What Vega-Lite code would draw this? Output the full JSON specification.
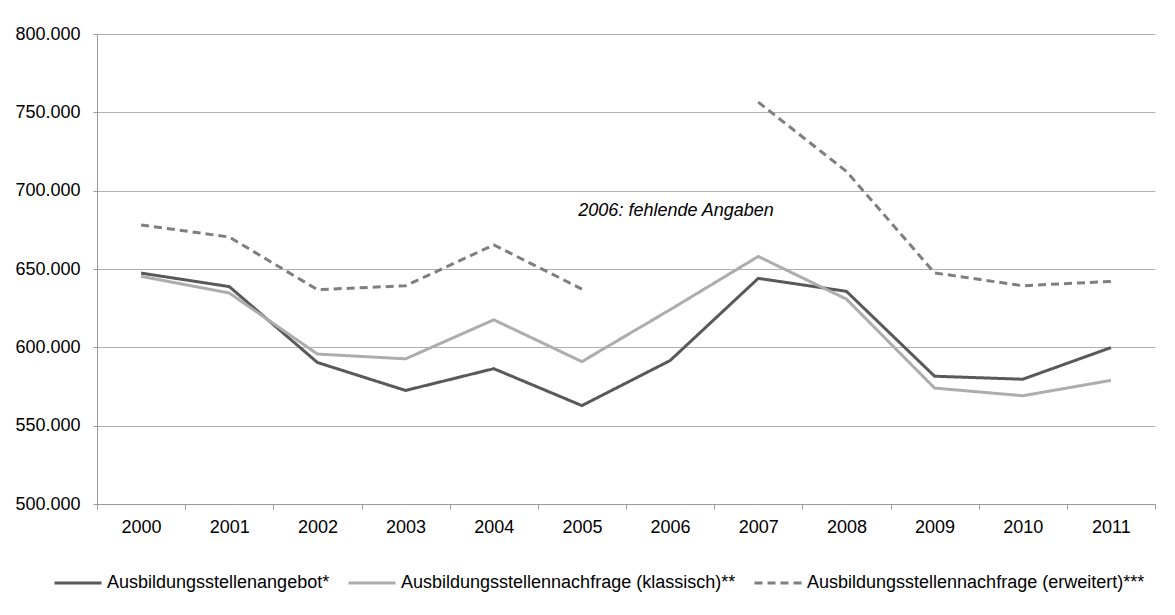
{
  "$schema": "https://vega.github.io/schema/vega-lite/v6.json",
  "width": 1058,
  "height": 470,
  "autosize": {"type": "none"},
  "padding": {"left": 97, "top": 34, "right": 20, "bottom": 111},
  "background": "white",
  "config": {"font": "Liberation Sans", "view": {"stroke": null}},
  "layer": [
    {
      "data": {
        "values": [
          {"Jahr": "2000", "Reihe": "Ausbildungsstellenangebot*", "Wert": 647383},
          {"Jahr": "2001", "Reihe": "Ausbildungsstellenangebot*", "Wert": 638771},
          {"Jahr": "2002", "Reihe": "Ausbildungsstellenangebot*", "Wert": 590328},
          {"Jahr": "2003", "Reihe": "Ausbildungsstellenangebot*", "Wert": 572474},
          {"Jahr": "2004", "Reihe": "Ausbildungsstellenangebot*", "Wert": 586374},
          {"Jahr": "2005", "Reihe": "Ausbildungsstellenangebot*", "Wert": 562816},
          {"Jahr": "2006", "Reihe": "Ausbildungsstellenangebot*", "Wert": 591540},
          {"Jahr": "2007", "Reihe": "Ausbildungsstellenangebot*", "Wert": 644028},
          {"Jahr": "2008", "Reihe": "Ausbildungsstellenangebot*", "Wert": 635758},
          {"Jahr": "2009", "Reihe": "Ausbildungsstellenangebot*", "Wert": 581562},
          {"Jahr": "2010", "Reihe": "Ausbildungsstellenangebot*", "Wert": 579649},
          {"Jahr": "2011", "Reihe": "Ausbildungsstellenangebot*", "Wert": 599829},
          {"Jahr": "2000", "Reihe": "Ausbildungsstellennachfrage (klassisch)**", "Wert": 645335},
          {"Jahr": "2001", "Reihe": "Ausbildungsstellennachfrage (klassisch)**", "Wert": 634698},
          {"Jahr": "2002", "Reihe": "Ausbildungsstellennachfrage (klassisch)**", "Wert": 595706},
          {"Jahr": "2003", "Reihe": "Ausbildungsstellennachfrage (klassisch)**", "Wert": 592649},
          {"Jahr": "2004", "Reihe": "Ausbildungsstellennachfrage (klassisch)**", "Wert": 617556},
          {"Jahr": "2005", "Reihe": "Ausbildungsstellennachfrage (klassisch)**", "Wert": 590900},
          {"Jahr": "2006", "Reihe": "Ausbildungsstellennachfrage (klassisch)**", "Wert": 624000},
          {"Jahr": "2007", "Reihe": "Ausbildungsstellennachfrage (klassisch)**", "Wert": 658000},
          {"Jahr": "2008", "Reihe": "Ausbildungsstellennachfrage (klassisch)**", "Wert": 630800},
          {"Jahr": "2009", "Reihe": "Ausbildungsstellennachfrage (klassisch)**", "Wert": 574000},
          {"Jahr": "2010", "Reihe": "Ausbildungsstellennachfrage (klassisch)**", "Wert": 569100},
          {"Jahr": "2011", "Reihe": "Ausbildungsstellennachfrage (klassisch)**", "Wert": 578900},
          {"Jahr": "2000", "Reihe": "Ausbildungsstellennachfrage (erweitert)***", "Wert": 678100},
          {"Jahr": "2001", "Reihe": "Ausbildungsstellennachfrage (erweitert)***", "Wert": 670400},
          {"Jahr": "2002", "Reihe": "Ausbildungsstellennachfrage (erweitert)***", "Wert": 636800},
          {"Jahr": "2003", "Reihe": "Ausbildungsstellennachfrage (erweitert)***", "Wert": 639300},
          {"Jahr": "2004", "Reihe": "Ausbildungsstellennachfrage (erweitert)***", "Wert": 665400},
          {"Jahr": "2005", "Reihe": "Ausbildungsstellennachfrage (erweitert)***", "Wert": 637200},
          {"Jahr": "2006", "Reihe": "Ausbildungsstellennachfrage (erweitert)***", "Wert": null},
          {"Jahr": "2007", "Reihe": "Ausbildungsstellennachfrage (erweitert)***", "Wert": 756500},
          {"Jahr": "2008", "Reihe": "Ausbildungsstellennachfrage (erweitert)***", "Wert": 712300},
          {"Jahr": "2009", "Reihe": "Ausbildungsstellennachfrage (erweitert)***", "Wert": 647500},
          {"Jahr": "2010", "Reihe": "Ausbildungsstellennachfrage (erweitert)***", "Wert": 639300},
          {"Jahr": "2011", "Reihe": "Ausbildungsstellennachfrage (erweitert)***", "Wert": 642100}
        ]
      },
      "mark": {"type": "line", "strokeWidth": 3, "invalid": "break-paths-show-domains"},
      "encoding": {
        "x": {
          "field": "Jahr",
          "type": "ordinal",
          "bandPosition": 0.5,
          "scale": {"type": "band", "paddingInner": 0, "paddingOuter": 0},
          "axis": {
            "title": null,
            "labelAngle": 0,
            "labelFontSize": 18,
            "labelColor": "#000000",
            "domainColor": "#9a9a9a",
            "tickColor": "#9a9a9a",
            "tickSize": 5,
            "labelPadding": 9,
            "tickBand": "extent",
            "grid": false
          }
        },
        "y": {
          "field": "Wert",
          "type": "quantitative",
          "scale": {"domain": [500000, 800000], "nice": false, "zero": false},
          "axis": {
            "title": null,
            "values": [500000, 550000, 600000, 650000, 700000, 750000, 800000],
            "labelExpr": "replace(format(datum.value, ',.0f'), ',', '.')",
            "labelFontSize": 18,
            "labelColor": "#000000",
            "tickSize": 4,
            "labelPadding": 13,
            "gridColor": "#b0b0b0",
            "domainColor": "#9a9a9a",
            "tickColor": "#9a9a9a"
          }
        },
        "color": {
          "field": "Reihe",
          "type": "nominal",
          "scale": {
            "domain": ["Ausbildungsstellenangebot*", "Ausbildungsstellennachfrage (klassisch)**", "Ausbildungsstellennachfrage (erweitert)***"],
            "range": ["#595959", "#adadad", "#7f7f7f"]
          },
          "legend": {
            "title": null,
            "orient": "none",
            "legendX": -44,
            "legendY": 524,
            "direction": "horizontal",
            "symbolType": "stroke",
            "symbolSize": 2209,
            "symbolStrokeWidth": 3,
            "labelFontSize": 18,
            "labelColor": "#000000",
            "labelLimit": 600,
            "labelOffset": 4,
            "columnPadding": 12
          }
        },
        "strokeDash": {
          "field": "Reihe",
          "type": "nominal",
          "scale": {
            "domain": ["Ausbildungsstellenangebot*", "Ausbildungsstellennachfrage (klassisch)**", "Ausbildungsstellennachfrage (erweitert)***"],
            "range": [[1, 0], [1, 0], [8, 5]]
          },
          "legend": {
            "title": null,
            "orient": "none",
            "legendX": -44,
            "legendY": 524,
            "direction": "horizontal",
            "symbolType": "stroke",
            "symbolSize": 2209,
            "symbolStrokeWidth": 3,
            "labelFontSize": 18,
            "labelColor": "#000000",
            "labelLimit": 600,
            "labelOffset": 4,
            "columnPadding": 12
          }
        }
      }
    },
    {
      "data": {"values": [{"Jahr": "2006", "Wert": 687000, "Hinweis": "2006: fehlende Angaben"}]},
      "mark": {"type": "text", "fontSize": 18, "fontStyle": "italic", "align": "center", "baseline": "middle", "dx": 6, "color": "#000000"},
      "encoding": {
        "x": {"field": "Jahr", "type": "ordinal", "bandPosition": 0.5},
        "y": {"field": "Wert", "type": "quantitative"},
        "text": {"field": "Hinweis", "type": "nominal"}
      }
    }
  ]
}
